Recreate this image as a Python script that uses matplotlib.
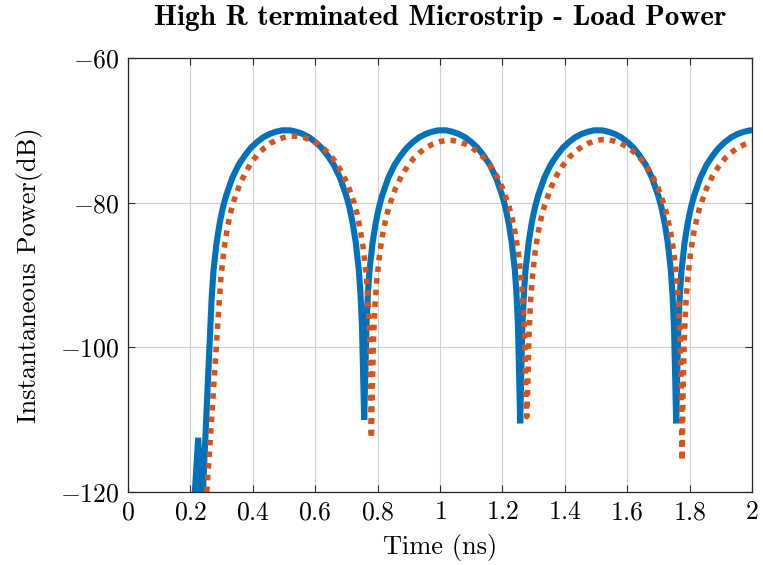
import matplotlib
matplotlib.use("Agg")
import matplotlib.pyplot as plt

# ---- data ----
blue_t = [0.200, 0.225, 0.237, 0.268, 0.274, 0.284, 0.294, 0.304, 0.314, 0.334, 0.354, 0.374,
          0.394, 0.414, 0.434, 0.454, 0.474, 0.494, 0.507, 0.520, 0.540, 0.560, 0.580, 0.600,
          0.620, 0.640, 0.660, 0.680, 0.700, 0.710, 0.720, 0.730, 0.740, 0.745, 0.750, 0.754,
          0.757,
          0.760, 0.764, 0.769, 0.774, 0.784, 0.794, 0.804, 0.814, 0.834, 0.854, 0.874, 0.894,
          0.914, 0.934, 0.954, 0.974, 0.994, 1.007, 1.020, 1.040, 1.060, 1.080, 1.100, 1.120,
          1.140, 1.160, 1.180, 1.200, 1.210, 1.220, 1.230, 1.240, 1.245, 1.250, 1.254, 1.257,
          1.260, 1.264, 1.269, 1.274, 1.284, 1.294, 1.304, 1.314, 1.334, 1.354, 1.374, 1.394,
          1.414, 1.434, 1.454, 1.474, 1.494, 1.507, 1.520, 1.540, 1.560, 1.580, 1.600, 1.620,
          1.640, 1.660, 1.680, 1.700, 1.710, 1.720, 1.730, 1.740, 1.745, 1.750, 1.754, 1.757,
          1.760, 1.764, 1.769, 1.774, 1.784, 1.794, 1.804, 1.814, 1.834, 1.854, 1.874, 1.894,
          1.914, 1.934, 1.954, 1.974, 1.994, 2.000]
blue_p = [-130.0, -112.5, -123.0, -93.3, -89.4, -85.5, -82.8, -80.7, -79.1, -76.6, -74.8, -73.5,
          -72.4, -71.6, -70.95, -70.5, -70.2, -70.0, -70.0, -70.0, -70.2, -70.5, -70.95, -71.6,
          -72.4, -73.5, -74.8, -76.6, -79.1, -80.7, -82.8, -85.5, -89.4, -92.5, -97.1, -104.5,
          -110.0,
          -104.5, -97.1, -92.5, -89.4, -85.5, -82.8, -80.7, -79.1, -76.6, -74.8, -73.5, -72.4,
          -71.6, -70.95, -70.5, -70.2, -70.0, -70.0, -70.0, -70.2, -70.5, -70.95, -71.6, -72.4,
          -73.5, -74.8, -76.6, -79.1, -80.7, -82.8, -85.5, -89.4, -92.5, -97.1, -104.5, -110.5,
          -104.5, -97.1, -92.5, -89.4, -85.5, -82.8, -80.7, -79.1, -76.6, -74.8, -73.5, -72.4,
          -71.6, -70.95, -70.5, -70.2, -70.0, -70.0, -70.0, -70.2, -70.5, -70.95, -71.6, -72.4,
          -73.5, -74.8, -76.6, -79.1, -80.7, -82.8, -85.5, -89.4, -92.5, -97.1, -104.5, -110.5,
          -104.5, -97.1, -92.5, -89.4, -85.5, -82.8, -80.7, -79.1, -76.6, -74.8, -73.5, -72.4,
          -71.6, -70.95, -70.5, -70.2, -70.0, -70.0]

orange_t = [0.250, 0.293, 0.298, 0.308, 0.318, 0.328, 0.338, 0.358, 0.378, 0.398, 0.418, 0.438,
            0.458, 0.478, 0.498, 0.518, 0.531, 0.544, 0.564, 0.584, 0.604, 0.624, 0.644, 0.664,
            0.684, 0.704, 0.724, 0.734, 0.744, 0.754, 0.764, 0.769, 0.774, 0.777, 0.780,
            0.783, 0.787, 0.792, 0.797, 0.807, 0.817, 0.827, 0.837, 0.857, 0.877, 0.897, 0.917,
            0.937, 0.957, 0.977, 0.997, 1.017, 1.029, 1.041, 1.061, 1.081, 1.101, 1.121, 1.141,
            1.161, 1.181, 1.201, 1.221, 1.231, 1.241, 1.251, 1.261, 1.266, 1.271, 1.275, 1.278,
            1.281, 1.285, 1.290, 1.295, 1.305, 1.315, 1.325, 1.335, 1.355, 1.375, 1.395, 1.415,
            1.435, 1.455, 1.475, 1.495, 1.515, 1.527, 1.539, 1.559, 1.579, 1.599, 1.619, 1.639,
            1.659, 1.679, 1.699, 1.719, 1.729, 1.739, 1.749, 1.759, 1.764, 1.769, 1.773, 1.776,
            1.779, 1.783, 1.788, 1.793, 1.803, 1.813, 1.823, 1.833, 1.853, 1.873, 1.893, 1.913,
            1.933, 1.953, 1.973, 1.993, 2.000]
orange_p = [-121.6, -93.3, -90.2, -86.3, -83.6, -81.5, -79.9, -77.5, -75.7, -74.3, -73.2, -72.4,
            -71.75, -71.3, -71.0, -70.8, -70.8, -70.8, -71.0, -71.3, -71.75, -72.4, -73.2, -74.3,
            -75.7, -77.5, -79.9, -81.5, -83.6, -86.3, -90.2, -93.3, -97.9, -105.3, -112.6,
            -105.9, -98.5, -93.9, -90.8, -86.9, -84.2, -82.1, -80.5, -78.05, -76.25, -74.9, -73.8,
            -73.0, -72.35, -71.9, -71.6, -71.4, -71.4, -71.4, -71.6, -71.9, -72.35, -73.0, -73.8,
            -74.9, -76.25, -78.05, -80.5, -82.1, -84.2, -86.9, -90.8, -93.9, -98.5, -105.9, -109.6,
            -105.8, -98.4, -93.8, -90.7, -86.75, -84.05, -82.0, -80.4, -77.95, -76.15, -74.8, -73.7,
            -72.9, -72.25, -71.8, -71.5, -71.3, -71.3, -71.3, -71.5, -71.8, -72.25, -72.9, -73.7,
            -74.8, -76.15, -77.95, -80.4, -82.0, -84.05, -86.75, -90.7, -93.8, -98.4, -105.8, -115.7,
            -106.0, -98.6, -94.0, -90.9, -86.95, -84.25, -82.2, -80.6, -78.15, -76.35, -75.0, -73.9,
            -73.1, -72.45, -72.0, -71.7, -71.6]

x_ticks = [0, 0.2, 0.4, 0.6, 0.8, 1.0, 1.2, 1.4, 1.6, 1.8, 2.0]
x_labels = ["0", "0.2", "0.4", "0.6", "0.8", "1", "1.2", "1.4", "1.6", "1.8", "2"]
y_ticks = [-120, -100, -80, -60]
y_labels = ["-120", "-100", "-80", "-60"]

title = "High R terminated Microstrip - Load Power"
xlabel = "Time (ns)"
ylabel = "Instantaneous Power(dB)"

# ---- figure ----
plt.rcParams['mathtext.fontset'] = 'cm'
plt.rcParams['font.family'] = 'cmr10'
plt.rcParams['axes.formatter.use_mathtext'] = True

fig = plt.figure(figsize=(7.63, 5.65), dpi=100)
ax = fig.add_axes([128 / 763, 1 - 492 / 565, (752 - 128) / 763, (492 - 58) / 565])

ax.plot(blue_t, blue_p, color='#0072BD', lw=4.4, solid_joinstyle='bevel', zorder=3)
ax.plot(orange_t, orange_p, color='#D95319', lw=4.0, linestyle=(0, (1, 1.1)),
        dash_capstyle='butt', zorder=4)

ax.set_xlim(0, 2)
ax.set_ylim(-120, -60)
ax.set_xticks(x_ticks)
ax.set_xticklabels(["$" + s + "$" for s in x_labels], fontsize=18.5)
ax.set_yticks(y_ticks)
ax.set_yticklabels(["$" + s + "$" for s in y_labels], fontsize=18.5)

ax.grid(True, color='#d0d0d0', lw=0.8)
ax.set_axisbelow(True)
ax.tick_params(direction='in', length=5, width=0.8, color='#262626',
               top=True, right=True, pad=6)
for s in ax.spines.values():
    s.set_color('#262626')
    s.set_linewidth(0.9)

ax.set_xlabel(xlabel, fontsize=19, labelpad=7)
ax.set_ylabel(ylabel, fontsize=19, labelpad=12)
ax.set_title(title, fontsize=21, fontfamily='cmb10', pad=24)

fig.savefig("out.png", dpi=100)
